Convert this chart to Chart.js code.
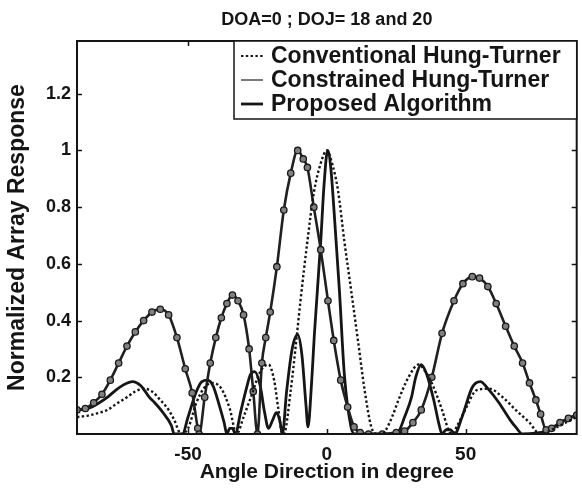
<!DOCTYPE html>
<html><head><meta charset="utf-8">
<script src="https://cdn.jsdelivr.net/npm/chart.js@4.4.1/dist/chart.umd.min.js"></script>
<style>html,body{margin:0;padding:0;background:#fff;}</style>
</head><body>
<canvas id="c" width="582" height="488"></canvas>
<script>
const titleText = 'DOA=0 ; DOJ= 18 and 20';
const xTitle = 'Angle Direction in degree';
const yTitle = 'Normalized Array Response';
const seriesLabels = ['Conventional Hung-Turner', 'Constrained Hung-Turner', 'Proposed Algorithm'];
const xTickValues = [-50, 0, 50];
const yTickValues = [0.2, 0.4, 0.6, 0.8, 1, 1.2];

const convAngles = [-90,-86,-82,-79,-76,-72,-69,-66,-63,-60,-57,-55,-52.5,-50,-47,-44,-41,-38,-35,-32.5,-30,-27,-24,-21,-19,-17.5,-16,-15.5,-13,-11,-9.5,-7,-4.7,-2.2,0,2,4,6.3,8.7,11.2,13.6,16,18,20,21,23.5,25.8,29.4,33,35.5,37.8,41.5,44,45,47,49.8,54,58.5,63.3,68,73,76.7,79,82,86,90];
const convValues = [0.06,0.065,0.075,0.085,0.105,0.13,0.15,0.16,0.15,0.12,0.085,0.05,0,0.02,0.11,0.165,0.18,0.16,0.09,0,0.06,0.14,0.22,0.245,0.19,0.09,0,0,0.155,0.33,0.47,0.68,0.85,0.955,1,0.95,0.86,0.68,0.51,0.33,0.155,0.025,0,0,0.01,0.06,0.12,0.2,0.245,0.22,0.18,0.085,0.01,0,0.03,0.085,0.155,0.16,0.13,0.085,0.04,0,0.005,0.02,0.04,0.06];

const consAngles = [-90,-87,-84,-81,-78,-75,-72,-69,-66,-63,-60,-57,-54,-51,-48.5,-46.5,-46,-44,-42,-40,-38,-36,-34,-32,-30,-28,-26.5,-25,-23.4,-22,-20.4,-18,-15.5,-13,-10.5,-8.5,-7,-4.7,-2.2,0.4,2.5,5,7.5,9.8,12,15,20,25,28,31,34,37.8,41.5,45.8,49,52.4,55,58,61,64.4,67.5,70.5,73,75.3,77,79,81,84,87,90];
const consValues = [0.085,0.09,0.11,0.14,0.19,0.25,0.31,0.36,0.4,0.43,0.44,0.42,0.34,0.23,0.145,0.02,0,0.13,0.25,0.34,0.41,0.46,0.49,0.47,0.42,0.3,0.15,0,0.25,0.34,0.43,0.59,0.79,0.92,1,0.97,0.94,0.8,0.65,0.47,0.33,0.19,0.095,0.025,0.005,0,0,0.005,0.01,0.04,0.085,0.2,0.355,0.47,0.53,0.555,0.55,0.52,0.46,0.38,0.31,0.25,0.18,0.12,0.07,0.015,0.02,0.04,0.055,0.067];

const propAngles = [-90,-86,-82,-79,-76,-73,-70,-67,-64,-62,-59,-56,-55,-52,-50,-47,-45,-43,-41,-39,-37,-36,-35,-34,-33,-31,-29,-27.5,-26,-24,-22.5,-21,-19.5,-18.2,-17,-16,-14.5,-12.5,-10.5,-9,-7.5,-6.8,-5.5,-4.5,-2.2,-1,0.3,1.5,2.5,4.5,6.3,8.7,10,25,26,28,30.5,32,34,36,38.5,40.5,41.5,43,44.5,46,48.7,52.4,55.3,58,62,66,68,70.5,79,81,84,87,90];
const propValues = [0.085,0.09,0.11,0.13,0.155,0.175,0.185,0.17,0.13,0.11,0.075,0.03,0,0,0.06,0.15,0.185,0.19,0.17,0.11,0.04,0,0.02,0.02,0,0.08,0.16,0.21,0.22,0.17,0.08,0.02,0.05,0.075,0.05,0,0.15,0.3,0.35,0.28,0.1,0.025,0.18,0.35,0.68,0.88,1,0.93,0.8,0.51,0.21,0.025,0,0,0.01,0.06,0.13,0.2,0.245,0.21,0.12,0.03,0,0.015,0.015,0,0.06,0.165,0.185,0.16,0.11,0.05,0.025,0,0.01,0.02,0.04,0.055,0.067];

const toPts = (xs, ys) => xs.map((v, i) => ({x: v, y: ys[i]}));
const FONT = "'Liberation Sans', Arial, sans-serif";
const INK = '#151515';
const legendSampleWidths = [2, 1.2, 2.8];

const framePlugin = {
  id: 'frame',
  afterDatasetsDraw(chart) {
    const {ctx, chartArea: a, scales: {x, y}} = chart;
    ctx.save();
    ctx.strokeStyle = INK;
    ctx.lineWidth = 2;
    ctx.strokeRect(a.left, a.top, a.right - a.left, a.bottom - a.top);
    ctx.lineWidth = 1.5;
    const L = 5;
    ctx.beginPath();
    xTickValues.forEach(v => {
      const px = Math.round(x.getPixelForValue(v)) + 0.5;
      ctx.moveTo(px, a.bottom); ctx.lineTo(px, a.bottom - L);
      ctx.moveTo(px, a.top); ctx.lineTo(px, a.top + L);
    });
    yTickValues.forEach(v => {
      const py = Math.round(y.getPixelForValue(v)) + 0.5;
      ctx.moveTo(a.left, py); ctx.lineTo(a.left + L, py);
      ctx.moveTo(a.right, py); ctx.lineTo(a.right - L, py);
    });
    ctx.stroke();
    ctx.restore();
  },
  afterDraw(chart) {
    const {ctx, chartArea: a} = chart;
    ctx.save();
    ctx.fillStyle = INK;
    ctx.font = "bold 18px " + FONT;
    ctx.textAlign = 'center';
    ctx.textBaseline = 'middle';
    ctx.fillText(titleText, (a.left + a.right) / 2, 20);
    const bx = 234, by = a.top, bw = a.right - bx, bh = 78;
    ctx.fillStyle = '#fff';
    ctx.fillRect(bx, by, bw, bh);
    ctx.strokeStyle = INK;
    ctx.lineWidth = 1.5;
    ctx.strokeRect(bx, by, bw, bh);
    const rows = [by + 15, by + 39, by + 63];
    chart.data.datasets.forEach((ds, i) => {
      const yy = rows[i];
      ctx.save();
      ctx.strokeStyle = ds.borderColor;
      ctx.lineWidth = legendSampleWidths[i];
      ctx.setLineDash(ds.borderDash || []);
      ctx.beginPath();
      ctx.moveTo(bx + 7, yy); ctx.lineTo(bx + 29, yy);
      ctx.stroke();
      ctx.restore();
      ctx.fillStyle = INK;
      ctx.font = "bold 23px " + FONT;
      ctx.textBaseline = 'middle';
      ctx.textAlign = 'left';
      ctx.fillText(ds.label, bx + 37, yy + 1);
    });
    ctx.restore();
  }
};

new Chart(document.getElementById('c'), {
  type: 'line',
  data: {
    datasets: [
      {label: seriesLabels[0], data: toPts(convAngles, convValues), borderColor: INK, borderWidth: 2.4, borderDash: [2.4, 2.4], pointRadius: 0, cubicInterpolationMode: 'monotone', fill: false},
      {label: seriesLabels[1], data: toPts(consAngles, consValues), borderColor: '#202020', borderWidth: 2.6, pointRadius: 3.2, pointStyle: 'circle', pointBorderColor: '#1a1a1a', pointBackgroundColor: '#808080', pointBorderWidth: 1.3, cubicInterpolationMode: 'monotone', fill: false},
      {label: seriesLabels[2], data: toPts(propAngles, propValues), borderColor: INK, borderWidth: 2.8, pointRadius: 0, cubicInterpolationMode: 'monotone', fill: false}
    ]
  },
  options: {
    responsive: false,
    animation: false,
    devicePixelRatio: 1,
    layout: {padding: {left: 4, right: 5, top: 41, bottom: 0}},
    plugins: {
      legend: {display: false},
      tooltip: {enabled: false},
      title: {display: false}
    },
    scales: {
      x: {
        type: 'linear', min: -90, max: 90,
        afterBuildTicks: s => { s.ticks = xTickValues.map(v => ({value: v})); },
        afterFit: s => { s.height = 54; },
        grid: {display: false, drawTicks: false},
        border: {display: false},
        ticks: {color: INK, padding: 9, font: {family: FONT, size: 19, weight: 'bold'}, callback: v => String(v)},
        title: {display: true, text: xTitle, color: INK, font: {family: FONT, size: 21, weight: 'bold'}, padding: {top: 0, bottom: 3}}
      },
      y: {
        type: 'linear', min: 0, max: 1.386,
        afterBuildTicks: s => { s.ticks = yTickValues.map(v => ({value: v})); },
        afterFit: s => { s.width = 73; },
        grid: {display: false, drawTicks: false},
        border: {display: false},
        ticks: {color: INK, padding: 6, font: {family: FONT, size: 18, weight: 'bold'}, callback: v => String(v)},
        title: {display: true, text: yTitle, color: INK, font: {family: FONT, size: 23, weight: 'bold'}, padding: {top: 0, bottom: 0}}
      }
    }
  },
  plugins: [framePlugin]
});
</script>
</body></html>
